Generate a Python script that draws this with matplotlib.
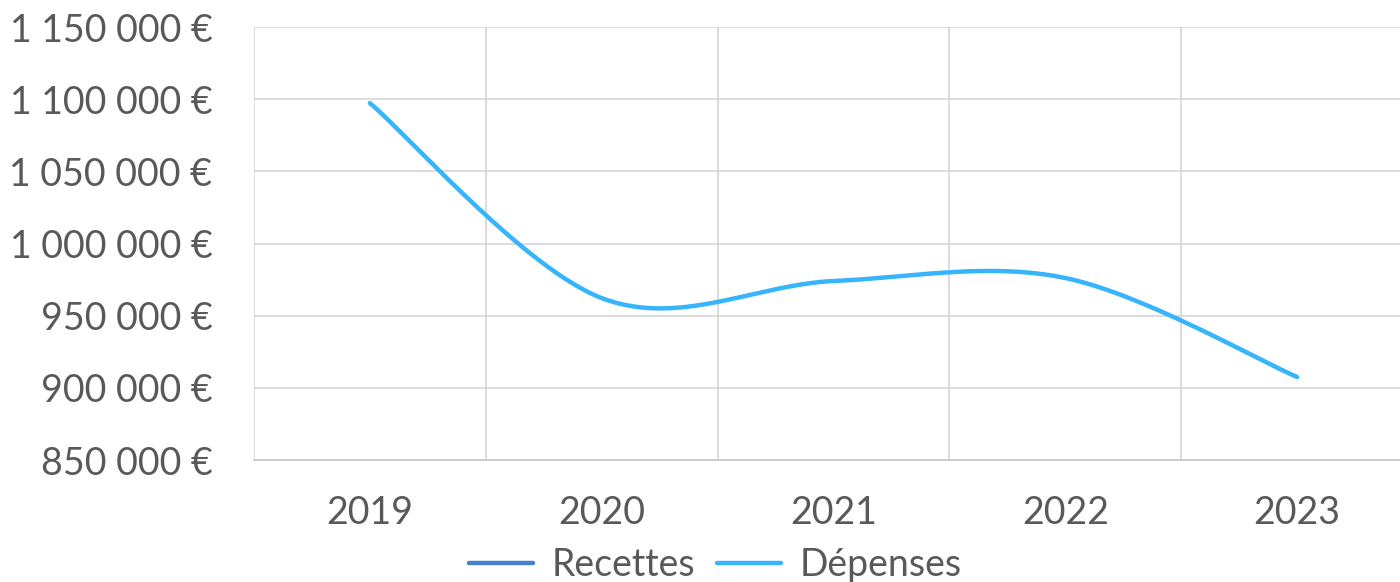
import numpy as np
from matplotlib import pyplot as plt
from matplotlib.lines import Line2D
from matplotlib.ticker import FuncFormatter, FixedLocator

years = ["2019", "2020", "2021", "2022", "2023"]
depenses = [1097300, 962200, 974000, 976100, 907500]
series_names = ["Recettes", "Dépenses"]
colors = ["#4680D0", "#36B4FC"]
y_ticks = [850000, 900000, 950000, 1000000, 1050000, 1100000, 1150000]

plt.rcParams["font.family"] = ["Lato", "DejaVu Sans"]
text_color = "#595959"


def smooth(xs, ys, n=60):
    # Catmull-Rom style bezier, like Excel's smoothed line
    xs = np.asarray(xs, float)
    ys = np.asarray(ys, float)
    px = np.concatenate([[xs[0]], xs, [xs[-1]]])
    py = np.concatenate([[ys[0]], ys, [ys[-1]]])
    out_x, out_y = [], []
    t = np.linspace(0, 1, n)
    for i in range(1, len(px) - 2):
        p0 = np.array([px[i], py[i]])
        p3 = np.array([px[i + 1], py[i + 1]])
        c1 = p0 + (p3 - np.array([px[i - 1], py[i - 1]])) / 6
        c2 = p3 - (np.array([px[i + 2], py[i + 2]]) - p0) / 6
        b = ((1 - t) ** 3)[:, None] * p0 + (3 * (1 - t) ** 2 * t)[:, None] * c1 \
            + (3 * (1 - t) * t ** 2)[:, None] * c2 + (t ** 3)[:, None] * p3
        out_x.extend(b[:, 0])
        out_y.extend(b[:, 1])
    return out_x, out_y


fig = plt.figure(figsize=(14, 5.82), dpi=100)
ax = fig.add_axes([0.1814, 0.2096, 0.8279, 0.7440])

x = np.arange(1, len(years) + 1)
sx, sy = smooth(x, depenses)
ax.plot(sx, sy, color=colors[1], lw=3.2, solid_capstyle="round", clip_on=False)

ax.set_xlim(0.5, len(years) + 0.5)
ax.set_ylim(y_ticks[0], y_ticks[-1])
ax.yaxis.set_major_locator(FixedLocator(y_ticks))
ax.yaxis.set_major_formatter(FuncFormatter(lambda v, p: f"{int(v):,} €".replace(",", " ")))
ax.set_xticks(x)
ax.set_xticklabels(years)
ax.set_xticks(np.arange(0.5, len(years) + 1, 1), minor=True)

ax.grid(axis="y", which="major", color="#D9D9D9", lw=1.3)
ax.grid(axis="x", which="minor", color="#D9D9D9", lw=1.3)
ax.set_axisbelow(True)
for s in ["top", "right", "left"]:
    ax.spines[s].set_visible(False)
ax.spines["bottom"].set_color("#C8C8C8")
ax.spines["bottom"].set_linewidth(1.3)

ax.tick_params(axis="both", which="both", length=0, labelsize=27, colors=text_color)
ax.tick_params(axis="y", pad=30)
ax.tick_params(axis="x", pad=25)

handles = [Line2D([], [], color=c, lw=3.2, solid_capstyle="round") for c in colors]
fig.legend(handles, series_names, loc="lower center", bbox_to_anchor=(0.511, -0.06),
           ncol=2, frameon=False, fontsize=27, labelcolor=text_color,
           handlelength=1.7, handletextpad=0.5, columnspacing=0.6)

fig.savefig("out.png", dpi=100)
